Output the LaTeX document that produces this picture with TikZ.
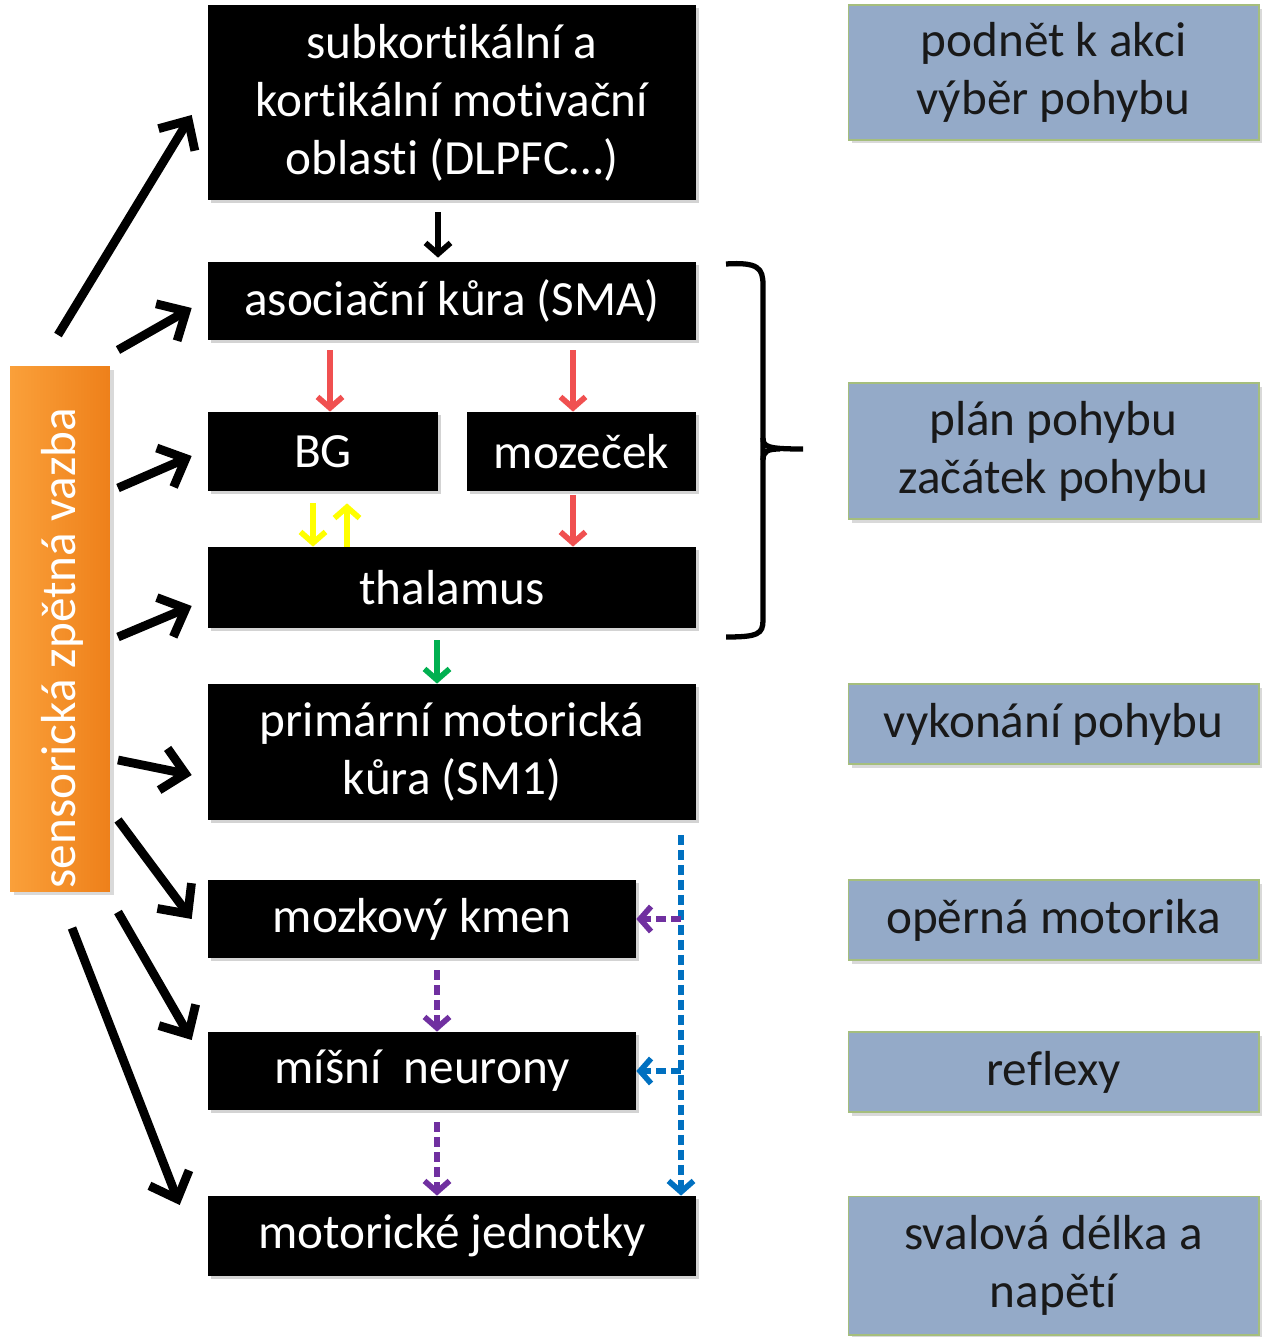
\documentclass[tikz,border=0pt]{standalone}
\usepackage{fontspec}
\setmainfont{Carlito}[RawFeature={-liga;-clig;-calt;-dlig}]
\usetikzlibrary{arrows.meta,positioning,shadows,calc}
\definecolor{infoblue}{RGB}{148,170,200}
\definecolor{infoedge}{RGB}{165,190,125}
\definecolor{sensdark}{RGB}{238,128,26}
\definecolor{senslight}{RGB}{250,160,58}
\definecolor{redarr}{RGB}{240,80,80}
\definecolor{yelarr}{RGB}{255,255,0}
\definecolor{grnarr}{RGB}{0,176,80}
\definecolor{bluarr}{RGB}{0,112,192}
\definecolor{purarr}{RGB}{112,48,160}
\tikzset{
  blk/.style={fill=black, text=white, minimum width=9.76cm, inner sep=0pt,
    align=center, font=\fontsize{28}{33}\selectfont,
    drop shadow={shadow xshift=1.5pt, shadow yshift=-1.5pt, opacity=0.35}},
  info/.style={fill=infoblue, draw=infoedge, line width=0.6pt, text=black!90,
    minimum width=8.22cm, inner sep=0pt, align=center,
    font=\fontsize{28}{33}\selectfont,
    drop shadow={shadow xshift=2pt, shadow yshift=-2pt, opacity=0.3}},
  fb/.style={line width=5pt, -{Straight Barb[length=0.45cm, width=0.85cm]}},
  thinarr/.style={line width=3.2pt, -{Straight Barb[length=0.22cm, width=0.5cm]}},
  dashedarr/.style={thinarr, dash pattern=on 0.2cm off 0.1cm}
}
\begin{document}
\begin{tikzpicture}[x=0.02cm, y=-0.02cm]
\useasboundingbox (0,0) rectangle (1261,1337);
% black boxes
\node[blk, minimum height=3.9cm] (motiv) at (452,102.5) {subkortikální a\\kortikální motivační\\oblasti (DLPFC…)};
\node[blk, minimum height=1.56cm] (sma) at (452,301) {asociační kůra (SMA)};
\node[blk, minimum width=4.6cm, minimum height=1.58cm] (bg) at (323,451.5) {BG};
\node[blk, minimum width=4.58cm, minimum height=1.58cm] (moz) at (581.5,451.5) {mozeček};
\node[blk, minimum height=1.62cm] (thal) at (452,587.5) {thalamus};
\node[blk, minimum height=2.72cm] (sm1) at (452,752) {primární motorická\\kůra (SM1)};
\node[blk, minimum width=8.56cm, minimum height=1.56cm] (kmen) at (422,919) {mozkový kmen};
\node[blk, minimum width=8.56cm, minimum height=1.56cm] (mis) at (422,1071) {míšní\ \ neurony};
\node[blk, minimum height=1.6cm] (mj) at (452,1236) {motorické jednotky};
% right column
\node[info, minimum height=2.7cm] (i1) at (1053.5,72.5) {podnět k akci\\výběr pohybu};
\node[info, minimum height=2.72cm] (i2) at (1053.5,451) {plán pohybu\\začátek pohybu};
\node[info, minimum height=1.6cm] (i3) at (1053.5,724) {vykonání pohybu};
\node[info, minimum height=1.6cm] (i4) at (1053.5,920) {opěrná motorika};
\node[info, minimum height=1.6cm] (i5) at (1053.5,1072) {reflexy};
\node[info, minimum height=2.78cm] (i6) at (1053.5,1265.5) {svalová délka a\\napětí};
% feedback bar
\node[minimum width=2cm, minimum height=10.52cm, left color=senslight, right color=sensdark,
  drop shadow={shadow xshift=2pt, shadow yshift=-2pt, opacity=0.3}] (sens) at (60,629) {};
\node[rotate=90, text=white, font=\fontsize{28}{33}\selectfont] (senstext) at (62,648) {sensorická zpětná vazba};
% brace
\draw[line width=3pt] (726,264) .. controls (758,262) and (763,268) .. (763,285) -- (763,620)
  .. controls (763,634) and (758,637) .. (726,637);
\draw[line width=3pt] (763,438) .. controls (763,447) and (768,449) .. (803,449);
\draw[line width=3pt] (763,460) .. controls (763,451) and (768,449) .. (780,449);
% arrows between boxes
\draw[thinarr, shorten <=0.24cm, shorten >=0.08cm] ([xshift=-0.28cm]motiv.south) -- ([xshift=-0.28cm]sma.north);
\draw[thinarr, redarr, shorten <=0.2cm] ([xshift=0.14cm]bg.north |- sma.south) -- ([xshift=0.14cm]bg.north);
\draw[thinarr, redarr, shorten <=0.2cm] ([xshift=-0.17cm]moz.north |- sma.south) -- ([xshift=-0.17cm]moz.north);
\draw[thinarr, redarr, shorten <=0.08cm] ([xshift=-0.17cm]moz.south) -- ([xshift=-0.17cm]moz.south |- thal.north);
\draw[thinarr, yelarr, shorten <=0.24cm] ([xshift=-0.2cm]bg.south) -- ([xshift=-0.2cm]bg.south |- thal.north);
\draw[thinarr, yelarr, shorten >=0.24cm] ([xshift=0.48cm]bg.south |- thal.north) -- ([xshift=0.48cm]bg.south);
\draw[thinarr, grnarr, shorten <=0.24cm] ([xshift=-0.3cm]thal.south) -- ([xshift=-0.3cm]sm1.north);
\draw[dashedarr, purarr, shorten <=0.24cm] ([xshift=0.3cm]kmen.south) -- ([xshift=0.3cm]mis.north);
\draw[dashedarr, purarr, shorten <=0.24cm] ([xshift=0.3cm]mis.south) -- ([xshift=0.3cm]mis.south |- mj.north);
\coordinate (btop) at (681,835);
\draw[dashedarr, bluarr] (btop) -- (btop |- mj.north);
\draw[dashedarr, purarr] (btop |- kmen.east) -- (kmen.east);
\draw[dashedarr, bluarr] (btop |- mis.east) -- (mis.east);
% feedback arrows
\coordinate (s1) at (58,335);
\coordinate (s2) at (118,350);
\coordinate (s3) at (118,488);
\coordinate (s4) at (118,637);
\coordinate (s5) at (118,760);
\coordinate (s6) at (118,820);
\coordinate (s7) at (118,912);
\coordinate (s8) at (72,928);
\draw[fb] (s1) -- ([xshift=-0.32cm, yshift=-0.25cm]motiv.west);
\draw[fb] (s2) -- ([xshift=-0.32cm, yshift=-0.14cm]sma.west);
\draw[fb] (s3) -- ([xshift=-0.32cm, yshift=-0.09cm]bg.west);
\draw[fb] (s4) -- ([xshift=-0.32cm, yshift=-0.37cm]thal.west);
\draw[fb] (s5) -- ([xshift=-0.32cm, yshift=-0.46cm]sm1.west);
\draw[fb] (s6) -- ([xshift=-0.32cm]kmen.west);
\draw[fb] (s7) -- ([xshift=-0.32cm, yshift=0.62cm]mis.west);
\draw[fb] (s8) -- ([xshift=-0.56cm, yshift=0.62cm]mj.west);
\end{tikzpicture}
\end{document}
